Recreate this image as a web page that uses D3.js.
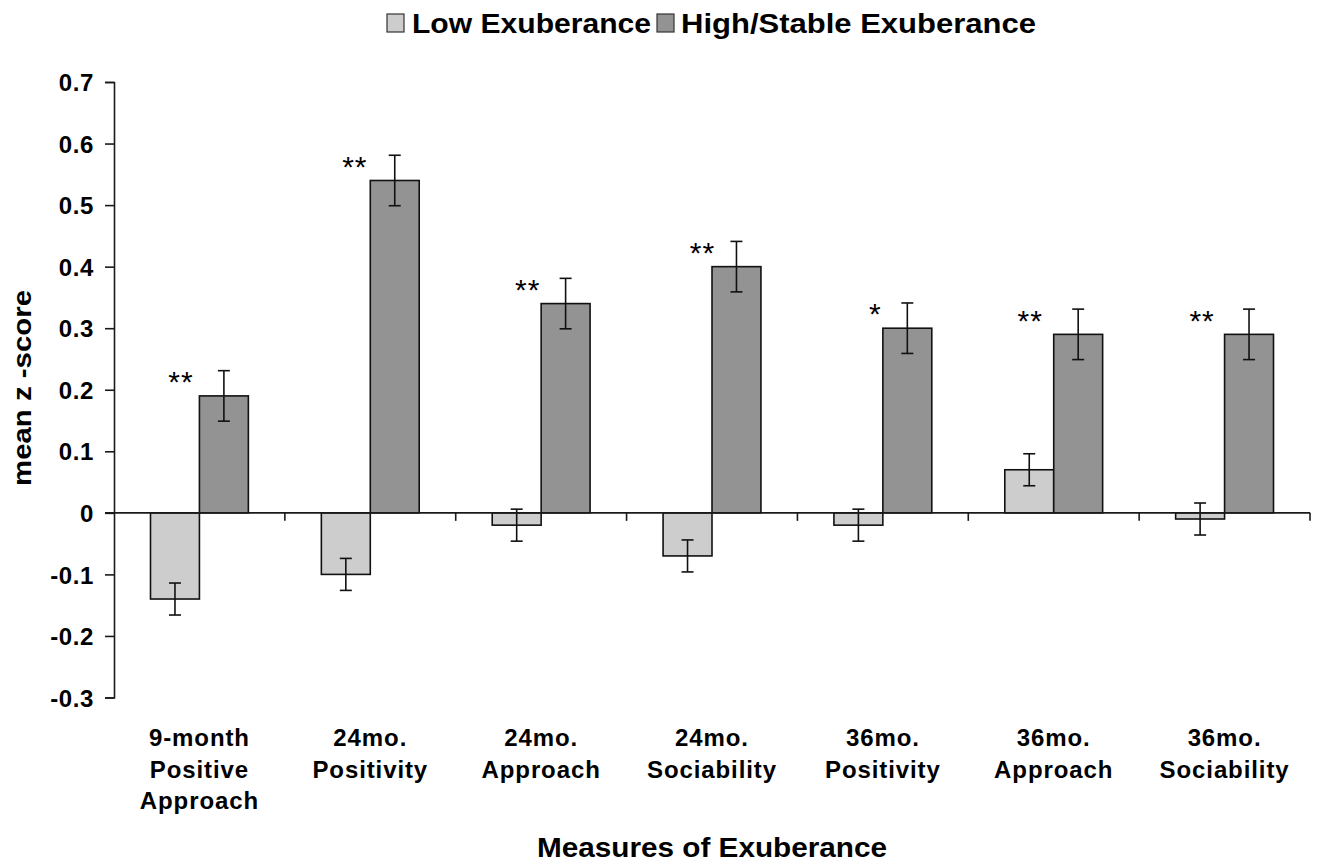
<!DOCTYPE html>
<html>
<head>
<meta charset="utf-8">
<script src="https://cdn.jsdelivr.net/npm/d3@7"></script>
<style>
  html, body { margin: 0; padding: 0; background: #fff; }
  svg { display: block; }
  text { font-family: "Liberation Sans", Arial, sans-serif; fill: #000; }
</style>
</head>
<body>
<svg id="chart" width="1319" height="865"></svg>
<script>
// ---- data ----
const categories = [
  ["9-month", "Positive", "Approach"],
  ["24mo.", "Positivity"],
  ["24mo.", "Approach"],
  ["24mo.", "Sociability"],
  ["36mo.", "Positivity"],
  ["36mo.", "Approach"],
  ["36mo.", "Sociability"]
];
const seriesNames = ["Low Exuberance", "High/Stable Exuberance"];
const lowValues  = [-0.14, -0.10, -0.02, -0.07, -0.02, 0.07, -0.01];
const lowErrors  = [0.026, 0.026, 0.026, 0.026, 0.026, 0.026, 0.026];
const highValues = [0.19, 0.54, 0.34, 0.40, 0.30, 0.29, 0.29];
const highErrors = [0.041, 0.041, 0.041, 0.041, 0.041, 0.041, 0.041];
const significance = ["**", "**", "**", "**", "*", "**", "**"];
const yTickValues = [-0.3, -0.2, -0.1, 0, 0.1, 0.2, 0.3, 0.4, 0.5, 0.6, 0.7];
const yTickLabels = ["-0.3", "-0.2", "-0.1", "0", "0.1", "0.2", "0.3", "0.4", "0.5", "0.6", "0.7"];
const xTitle = "Measures of Exuberance";
const yTitle = "mean z -score";

// ---- layout ----
const colors = ["#cdcdcd", "#939393"];
const plot = { left: 114, right: 1310, top: 82, bottom: 697.5 };
const starNudge = [6, 9, 11, 15, 17, 1, 2]; // manual placement of significance marks (px)

const svg = d3.select("#chart");
const idx = d3.range(categories.length);

const x = d3.scaleBand().domain(idx).range([plot.left, plot.right]).paddingInner(0).paddingOuter(0);
const xs = d3.scaleBand().domain([0, 1]).range([36.5, x.bandwidth() - 36.5]).padding(0);
const y = d3.scaleLinear().domain([-0.3, 0.7]).range([plot.bottom, plot.top]);

const rows = idx.map(i => ({
  i,
  vals: [
    { s: 0, v: lowValues[i], e: lowErrors[i] },
    { s: 1, v: highValues[i], e: highErrors[i] }
  ]
}));

// y axis
const yAxis = d3.axisLeft(y)
  .tickValues(yTickValues)
  .tickFormat((d, k) => yTickLabels[k])
  .tickSize(9)
  .tickPadding(11);
const gy = svg.append("g").attr("transform", `translate(${plot.left},0)`).call(yAxis);
gy.select(".domain").attr("stroke", "#1a1a1a").attr("stroke-width", 1.6);
gy.selectAll(".tick line").attr("stroke", "#1a1a1a").attr("stroke-width", 1.6);
gy.selectAll(".tick text")
  .attr("font-size", 24).attr("font-weight", "bold")
  .attr("font-family", "Liberation Sans, Arial, sans-serif")
  .style("letter-spacing", "0.6px")
  .attr("dy", "0.36em");

// bars
const groups = svg.append("g").selectAll("g").data(rows).join("g")
  .attr("transform", d => `translate(${x(d.i)},0)`);

groups.selectAll("rect").data(d => d.vals).join("rect")
  .attr("x", d => xs(d.s))
  .attr("width", xs.bandwidth())
  .attr("y", d => y(Math.max(0, d.v)))
  .attr("height", d => Math.abs(y(d.v) - y(0)))
  .attr("fill", d => colors[d.s])
  .attr("stroke", "#111")
  .attr("stroke-width", 1.6);

// x axis (zero line) with ticks at category boundaries
const gx = svg.append("g");
gx.append("line")
  .attr("x1", plot.left - 9).attr("x2", plot.right)
  .attr("y1", y(0)).attr("y2", y(0))
  .attr("stroke", "#1a1a1a").attr("stroke-width", 1.6);
gx.selectAll("line.tk").data(idx.slice(1).concat([categories.length])).join("line")
  .attr("class", "tk")
  .attr("x1", i => i < categories.length ? x(i) : plot.right)
  .attr("x2", i => i < categories.length ? x(i) : plot.right)
  .attr("y1", y(0)).attr("y2", y(0) + 8)
  .attr("stroke", "#1a1a1a").attr("stroke-width", 1.6);

// error bars
const eb = groups.selectAll("g.err").data(d => d.vals).join("g").attr("class", "err");
eb.append("line")
  .attr("x1", d => xs(d.s) + xs.bandwidth() / 2)
  .attr("x2", d => xs(d.s) + xs.bandwidth() / 2)
  .attr("y1", d => y(d.v + d.e)).attr("y2", d => y(d.v - d.e))
  .attr("stroke", "#111").attr("stroke-width", 1.6);
eb.selectAll("line.cap").data(d => [d.v + d.e, d.v - d.e].map(t => ({ t, s: d.s }))).join("line")
  .attr("class", "cap")
  .attr("x1", d => xs(d.s) + xs.bandwidth() / 2 - 6)
  .attr("x2", d => xs(d.s) + xs.bandwidth() / 2 + 6)
  .attr("y1", d => y(d.t)).attr("y2", d => y(d.t))
  .attr("stroke", "#111").attr("stroke-width", 1.6);

// significance marks
groups.append("text")
  .attr("x", d => xs(0) + xs.bandwidth() / 2 + starNudge[d.i])
  .attr("y", d => y(highValues[d.i] + highErrors[d.i]) + 4.5 + 17)
  .attr("text-anchor", "middle")
  .attr("font-size", 30)
  .attr("fill", "#222")
  .style("letter-spacing", "1px")
  .text(d => significance[d.i]);

// category labels
const lab = svg.append("g").selectAll("text").data(idx).join("text")
  .attr("x", i => x(i) + x.bandwidth() / 2)
  .attr("y", 746)
  .attr("text-anchor", "middle")
  .attr("font-size", 24).attr("font-weight", "bold")
  .style("letter-spacing", "0.9px");
lab.selectAll("tspan").data(i => categories[i]).join("tspan")
  .attr("x", function () { return d3.select(this.parentNode).attr("x"); })
  .attr("dy", (d, k) => k === 0 ? 0 : 31.5)
  .text(d => d);

// axis titles
svg.append("text")
  .attr("x", 712).attr("y", 857)
  .attr("text-anchor", "middle")
  .attr("font-size", 27).attr("font-weight", "bold")
  .attr("textLength", 350).attr("lengthAdjust", "spacingAndGlyphs")
  .text(xTitle);

svg.append("text")
  .attr("transform", "translate(31,388) rotate(-90)")
  .attr("text-anchor", "middle")
  .attr("font-size", 26).attr("font-weight", "bold")
  .attr("textLength", 196).attr("lengthAdjust", "spacingAndGlyphs")
  .text(yTitle);

// legend
const legendItems = [
  { name: seriesNames[0], color: colors[0], sx: 387, tx: 412, w: 239 },
  { name: seriesNames[1], color: colors[1], sx: 657, tx: 681, w: 355 }
];
const lg = svg.append("g").selectAll("g").data(legendItems).join("g");
lg.append("rect")
  .attr("x", d => d.sx).attr("y", 14).attr("width", 17).attr("height", 18)
  .attr("fill", d => d.color).attr("stroke", "#333").attr("stroke-width", 1.2);
lg.append("text")
  .attr("x", d => d.tx).attr("y", 33)
  .attr("font-size", 27).attr("font-weight", "bold")
  .attr("textLength", d => d.w).attr("lengthAdjust", "spacingAndGlyphs")
  .text(d => d.name);
</script>
</body>
</html>
